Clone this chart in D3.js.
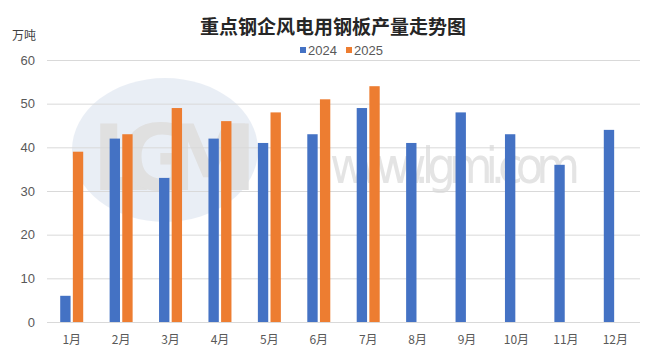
<!DOCTYPE html>
<html><head><meta charset="utf-8">
<script src="https://cdn.jsdelivr.net/npm/d3@7"></script>
<style>body{margin:0;background:#fff}svg{display:block}</style>
</head><body>
<script>
const months = ["1月","2月","3月","4月","5月","6月","7月","8月","9月","10月","11月","12月"];
const seriesNames = ["2024","2025"];
const values2024 = [6,42,33,42,41,43,49,41,48,43,36,44];
const values2025 = [39,43,49,46,48,51,54,null,null,null,null,null];
const yTicks = [0,10,20,30,40,50,60];
const colors = ["#4472C4","#ED7D31"];

const W=660,H=363;
const svg=d3.select("body").append("svg").attr("width",W).attr("height",H);
const x=d3.scaleBand().domain(months).range([47,640]).paddingInner(0).paddingOuter(0);
const y=d3.scaleLinear().domain([0,60]).range([322,60]);

// watermark
const wm=svg.append("g").attr("opacity",0.3);
wm.append("ellipse").attr("cx",165).attr("cy",150).attr("rx",93).attr("ry",72).attr("fill","#b9c9e0");
wm.append("text").attr("x",92).attr("y",190).attr("font-family","DejaVu Sans").attr("font-weight","bold")
  .attr("font-size",90).attr("fill","#9a9a9a").attr("textLength",165).text("LGMI");
wm.append("text").attr("x",330).attr("y",183).attr("font-family","DejaVu Sans Condensed")
  .attr("font-size",50).attr("fill","#a8a8a8").attr("textLength",250).text("www.lgmi.com");

// grid
svg.append("g").selectAll("line").data(yTicks).join("line")
  .attr("x1",47).attr("x2",640).attr("y1",d=>y(d)+0.5).attr("y2",d=>y(d)+0.5)
  .attr("stroke","#d9d9d9").attr("stroke-width",1);

const yAxis=d3.axisLeft(y).tickValues(yTicks).tickSize(0).tickPadding(0);
const ga=svg.append("g").attr("transform","translate(35,0)").call(yAxis);
ga.select(".domain").remove();
ga.selectAll("text").attr("font-family","Liberation Sans, Arial").attr("font-size",13).attr("fill","#595959");

const xAxis=d3.axisBottom(x).tickSize(0).tickPadding(0);
const gx=svg.append("g").attr("transform","translate(0,334)").call(xAxis);
gx.select(".domain").remove();
gx.selectAll("text").attr("font-family","Noto Sans CJK SC").attr("font-size",12).attr("fill","#595959").attr("dy","0.8em");

const sub=d3.scaleBand().domain(seriesNames).range([-11.5,11.5]).paddingInner(0.18);
const data=[values2024,values2025];
data.forEach((vals,si)=>{
  svg.append("g").selectAll("rect").data(months.map((m,i)=>({m,v:vals[i]})).filter(d=>d.v!=null)).join("rect")
    .attr("x",d=>x(d.m)+x.bandwidth()/2+sub(seriesNames[si]))
    .attr("width",sub.bandwidth())
    .attr("y",d=>y(d.v)).attr("height",d=>y(0)-y(d.v))
    .attr("fill",colors[si]);
});

svg.append("text").attr("x",333).attr("y",34).attr("text-anchor","middle")
  .attr("font-family","Noto Sans CJK SC").attr("font-weight","bold").attr("font-size",19).attr("fill","#262626")
  .text("重点钢企风电用钢板产量走势图");
svg.append("text").attr("x",12).attr("y",40)
  .attr("font-family","Noto Sans CJK SC").attr("font-size",12).attr("fill","#404040").text("万吨");

const lg=svg.append("g");
const lx=[300,346];
seriesNames.forEach((s,i)=>{
  lg.append("rect").attr("x",lx[i]).attr("y",47).attr("width",6).attr("height",6).attr("fill",colors[i]);
  lg.append("text").attr("x",lx[i]+8).attr("y",55).attr("font-family","Liberation Sans, Arial")
    .attr("font-size",13).attr("fill","#595959").text(s);
});
</script>
</body></html>
